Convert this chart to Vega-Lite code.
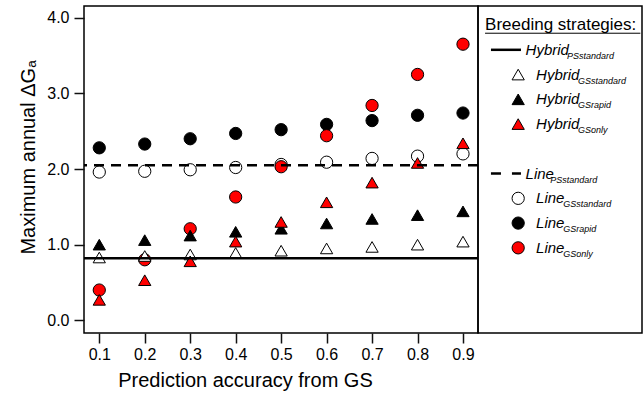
{
  "$schema": "https://vega.github.io/schema/vega-lite/v6.json",
  "padding": {"left": 18, "top": 5, "right": 2, "bottom": 2},
  "spacing": 0,
  "bounds": "flush",
  "config": {
    "font": "Liberation Sans",
    "view": {"stroke": "black", "strokeWidth": 1.5},
    "axis": {"domain": false, "grid": false, "tickColor": "#111", "tickWidth": 1.5, "tickSize": 10, "labelColor": "black", "titleColor": "black", "labelFont": "Liberation Sans", "titleFont": "Liberation Sans, DejaVu Sans", "titleFontWeight": "normal", "labelFontSize": 16, "titleFontSize": 20}
  },
  "datasets": {
    "points": [
      {"acc": 0.1, "series": "Line GSstandard", "value": 1.96},
      {"acc": 0.2, "series": "Line GSstandard", "value": 1.97},
      {"acc": 0.3, "series": "Line GSstandard", "value": 1.99},
      {"acc": 0.4, "series": "Line GSstandard", "value": 2.02},
      {"acc": 0.5, "series": "Line GSstandard", "value": 2.06},
      {"acc": 0.6, "series": "Line GSstandard", "value": 2.09},
      {"acc": 0.7, "series": "Line GSstandard", "value": 2.14},
      {"acc": 0.8, "series": "Line GSstandard", "value": 2.17},
      {"acc": 0.9, "series": "Line GSstandard", "value": 2.2},
      {"acc": 0.1, "series": "Line GSrapid", "value": 2.28},
      {"acc": 0.2, "series": "Line GSrapid", "value": 2.33},
      {"acc": 0.3, "series": "Line GSrapid", "value": 2.4},
      {"acc": 0.4, "series": "Line GSrapid", "value": 2.47},
      {"acc": 0.5, "series": "Line GSrapid", "value": 2.52},
      {"acc": 0.6, "series": "Line GSrapid", "value": 2.59},
      {"acc": 0.7, "series": "Line GSrapid", "value": 2.64},
      {"acc": 0.8, "series": "Line GSrapid", "value": 2.71},
      {"acc": 0.9, "series": "Line GSrapid", "value": 2.74},
      {"acc": 0.1, "series": "Line GSonly", "value": 0.4},
      {"acc": 0.2, "series": "Line GSonly", "value": 0.8},
      {"acc": 0.3, "series": "Line GSonly", "value": 1.21},
      {"acc": 0.4, "series": "Line GSonly", "value": 1.63},
      {"acc": 0.5, "series": "Line GSonly", "value": 2.03},
      {"acc": 0.6, "series": "Line GSonly", "value": 2.44},
      {"acc": 0.7, "series": "Line GSonly", "value": 2.84},
      {"acc": 0.8, "series": "Line GSonly", "value": 3.25},
      {"acc": 0.9, "series": "Line GSonly", "value": 3.65},
      {"acc": 0.1, "series": "Hybrid GSstandard", "value": 0.83},
      {"acc": 0.2, "series": "Hybrid GSstandard", "value": 0.85},
      {"acc": 0.3, "series": "Hybrid GSstandard", "value": 0.87},
      {"acc": 0.4, "series": "Hybrid GSstandard", "value": 0.89},
      {"acc": 0.5, "series": "Hybrid GSstandard", "value": 0.92},
      {"acc": 0.6, "series": "Hybrid GSstandard", "value": 0.95},
      {"acc": 0.7, "series": "Hybrid GSstandard", "value": 0.97},
      {"acc": 0.8, "series": "Hybrid GSstandard", "value": 1.0},
      {"acc": 0.9, "series": "Hybrid GSstandard", "value": 1.04},
      {"acc": 0.1, "series": "Hybrid GSrapid", "value": 1.0},
      {"acc": 0.2, "series": "Hybrid GSrapid", "value": 1.06},
      {"acc": 0.3, "series": "Hybrid GSrapid", "value": 1.12},
      {"acc": 0.4, "series": "Hybrid GSrapid", "value": 1.17},
      {"acc": 0.5, "series": "Hybrid GSrapid", "value": 1.21},
      {"acc": 0.6, "series": "Hybrid GSrapid", "value": 1.28},
      {"acc": 0.7, "series": "Hybrid GSrapid", "value": 1.34},
      {"acc": 0.8, "series": "Hybrid GSrapid", "value": 1.39},
      {"acc": 0.9, "series": "Hybrid GSrapid", "value": 1.44},
      {"acc": 0.1, "series": "Hybrid GSonly", "value": 0.27},
      {"acc": 0.2, "series": "Hybrid GSonly", "value": 0.53},
      {"acc": 0.3, "series": "Hybrid GSonly", "value": 0.78},
      {"acc": 0.4, "series": "Hybrid GSonly", "value": 1.04},
      {"acc": 0.5, "series": "Hybrid GSonly", "value": 1.3},
      {"acc": 0.6, "series": "Hybrid GSonly", "value": 1.56},
      {"acc": 0.7, "series": "Hybrid GSonly", "value": 1.82},
      {"acc": 0.8, "series": "Hybrid GSonly", "value": 2.08},
      {"acc": 0.9, "series": "Hybrid GSonly", "value": 2.34}
    ],
    "refs": [
      {"series": "Hybrid PSstandard", "value": 0.82},
      {"series": "Line PSstandard", "value": 2.05}
    ],
    "legend": [
      {"kind": "header", "series": "header", "slot": 0, "main": "Breeding strategies:", "sub": ""},
      {"kind": "PS", "group": "Hybrid", "series": "Hybrid PSstandard", "slot": 1, "main": "Hybrid", "sub": "PSstandard"},
      {"kind": "GS", "group": "Hybrid", "series": "Hybrid GSstandard", "slot": 2, "main": "Hybrid", "sub": "GSstandard"},
      {"kind": "GS", "group": "Hybrid", "series": "Hybrid GSrapid", "slot": 3, "main": "Hybrid", "sub": "GSrapid"},
      {"kind": "GS", "group": "Hybrid", "series": "Hybrid GSonly", "slot": 4, "main": "Hybrid", "sub": "GSonly"},
      {"kind": "PS", "group": "Line", "series": "Line PSstandard", "slot": 6, "main": "Line", "sub": "PSstandard"},
      {"kind": "GS", "group": "Line", "series": "Line GSstandard", "slot": 7, "main": "Line", "sub": "GSstandard"},
      {"kind": "GS", "group": "Line", "series": "Line GSrapid", "slot": 8, "main": "Line", "sub": "GSrapid"},
      {"kind": "GS", "group": "Line", "series": "Line GSonly", "slot": 9, "main": "Line", "sub": "GSonly"}
    ]
  },
  "hconcat": [
    {
      "width": 394,
      "height": 327,
      "layer": [
        {
          "data": {"name": "points"},
          "mark": {"type": "point", "filled": true, "stroke": "black", "strokeWidth": 1, "opacity": 1},
          "encoding": {
            "x": {"field": "acc", "type": "quantitative", "scale": {"domain": [0.0664, 0.933], "nice": false, "zero": false},
                  "axis": {"values": [0.1, 0.2, 0.3, 0.4, 0.5, 0.6, 0.7, 0.8, 0.9], "format": ".1f", "labelPadding": 3, "title": "Prediction accuracy from GS", "titlePadding": 8, "titleX": 161, "titleAlign": "center"}},
            "y": {"field": "value", "type": "quantitative", "scale": {"domain": [-0.168, 4.155], "nice": false, "zero": false},
                  "axis": {"values": [0, 1, 2, 3, 4], "format": ".1f", "labelPadding": 5, "title": "Maximum annual ΔGₐ", "titlePadding": 8, "titleY": 151}},
            "shape": {"field": "series", "type": "nominal", "legend": null,
                      "scale": {"domain": ["Hybrid GSstandard", "Hybrid GSrapid", "Hybrid GSonly", "Line GSstandard", "Line GSrapid", "Line GSonly"], "range": ["triangle-up", "triangle-up", "triangle-up", "circle", "circle", "circle"]}},
            "fill": {"field": "series", "type": "nominal", "legend": null,
                     "scale": {"domain": ["Hybrid GSstandard", "Hybrid GSrapid", "Hybrid GSonly", "Line GSstandard", "Line GSrapid", "Line GSonly"], "range": ["white", "black", "#ff0000", "white", "black", "#ff0000"]}},
            "size": {"field": "series", "type": "nominal", "legend": null,
                     "scale": {"domain": ["Hybrid GSstandard", "Hybrid GSrapid", "Hybrid GSonly", "Line GSstandard", "Line GSrapid", "Line GSonly"], "range": [150, 150, 150, 105, 105, 105]}}
          }
        },
        {
          "data": {"name": "refs"},
          "mark": {"type": "rule", "color": "black", "strokeWidth": 2.5},
          "encoding": {
            "y": {"field": "value", "type": "quantitative", "title": "Maximum annual ΔGₐ"},
            "strokeDash": {"field": "series", "type": "nominal", "legend": null,
                           "scale": {"domain": ["Hybrid PSstandard", "Line PSstandard"], "range": [[1, 0], [10, 7]]}}
          }
        }
      ]
    },
    {
      "width": 164,
      "height": 327,
      "data": {"name": "legend"},
      "encoding": {
        "y": {"field": "slot", "type": "quantitative", "axis": null, "scale": {"domain": [-0.77, 12.44], "nice": false, "zero": false, "reverse": true}}
      },
      "layer": [
        {
          "transform": [{"filter": "datum.kind === 'header'"}],
          "mark": {"type": "text", "align": "left", "baseline": "middle", "fontSize": 17, "font": "Liberation Sans", "color": "black"},
          "encoding": {
            "x": {"datum": 0.043, "type": "quantitative", "axis": null, "scale": {"domain": [0, 1], "nice": false, "zero": false}},
            "text": {"field": "main"}
          }
        },
        {
          "transform": [{"filter": "datum.kind === 'header'"}],
          "mark": {"type": "rule", "color": "black", "strokeWidth": 1},
          "encoding": {
            "x": {"datum": 0.043, "type": "quantitative"},
            "x2": {"datum": 0.99},
            "y": {"datum": 0.33, "type": "quantitative"}
          }
        },
        {
          "transform": [{"filter": "datum.series === 'Hybrid PSstandard'"}],
          "mark": {"type": "rule", "color": "black", "strokeWidth": 2.5},
          "encoding": {
            "x": {"datum": 0.079, "type": "quantitative"},
            "x2": {"datum": 0.262}
          }
        },
        {
          "transform": [{"filter": "datum.series === 'Line PSstandard'"}],
          "mark": {"type": "rule", "color": "black", "strokeWidth": 2.5, "strokeDash": [10, 11]},
          "encoding": {
            "x": {"datum": 0.079, "type": "quantitative"},
            "x2": {"datum": 0.262}
          }
        },
        {
          "transform": [{"filter": "datum.kind === 'GS'"}],
          "mark": {"type": "point", "filled": true, "stroke": "black", "strokeWidth": 1, "opacity": 1},
          "encoding": {
            "x": {"datum": 0.245, "type": "quantitative"},
            "shape": {"field": "series", "type": "nominal", "legend": null},
            "fill": {"field": "series", "type": "nominal", "legend": null},
            "size": {"field": "series", "type": "nominal", "legend": null}
          }
        },
        {
          "transform": [{"filter": "datum.kind === 'PS'"}],
          "mark": {"type": "text", "align": "left", "baseline": "middle", "fontSize": 15, "fontStyle": "italic", "color": "black"},
          "encoding": {"x": {"datum": 0.29, "type": "quantitative"}, "text": {"field": "main"}}
        },
        {
          "transform": [{"filter": "datum.kind === 'GS'"}],
          "mark": {"type": "text", "align": "left", "baseline": "middle", "fontSize": 15, "fontStyle": "italic", "color": "black"},
          "encoding": {"x": {"datum": 0.354, "type": "quantitative"}, "text": {"field": "main"}}
        },
        {
          "transform": [{"filter": "datum.kind === 'PS' && datum.group === 'Hybrid'"}],
          "mark": {"type": "text", "align": "left", "baseline": "middle", "fontSize": 9, "fontStyle": "italic", "dy": 6, "color": "black"},
          "encoding": {"x": {"datum": 0.543, "type": "quantitative"}, "text": {"field": "sub"}}
        },
        {
          "transform": [{"filter": "datum.kind === 'PS' && datum.group === 'Line'"}],
          "mark": {"type": "text", "align": "left", "baseline": "middle", "fontSize": 9, "fontStyle": "italic", "dy": 6, "color": "black"},
          "encoding": {"x": {"datum": 0.44, "type": "quantitative"}, "text": {"field": "sub"}}
        },
        {
          "transform": [{"filter": "datum.kind === 'GS' && datum.group === 'Hybrid'"}],
          "mark": {"type": "text", "align": "left", "baseline": "middle", "fontSize": 9, "fontStyle": "italic", "dy": 6, "color": "black"},
          "encoding": {"x": {"datum": 0.61, "type": "quantitative"}, "text": {"field": "sub"}}
        },
        {
          "transform": [{"filter": "datum.kind === 'GS' && datum.group === 'Line'"}],
          "mark": {"type": "text", "align": "left", "baseline": "middle", "fontSize": 9, "fontStyle": "italic", "dy": 6, "color": "black"},
          "encoding": {"x": {"datum": 0.52, "type": "quantitative"}, "text": {"field": "sub"}}
        }
      ]
    }
  ]
}
